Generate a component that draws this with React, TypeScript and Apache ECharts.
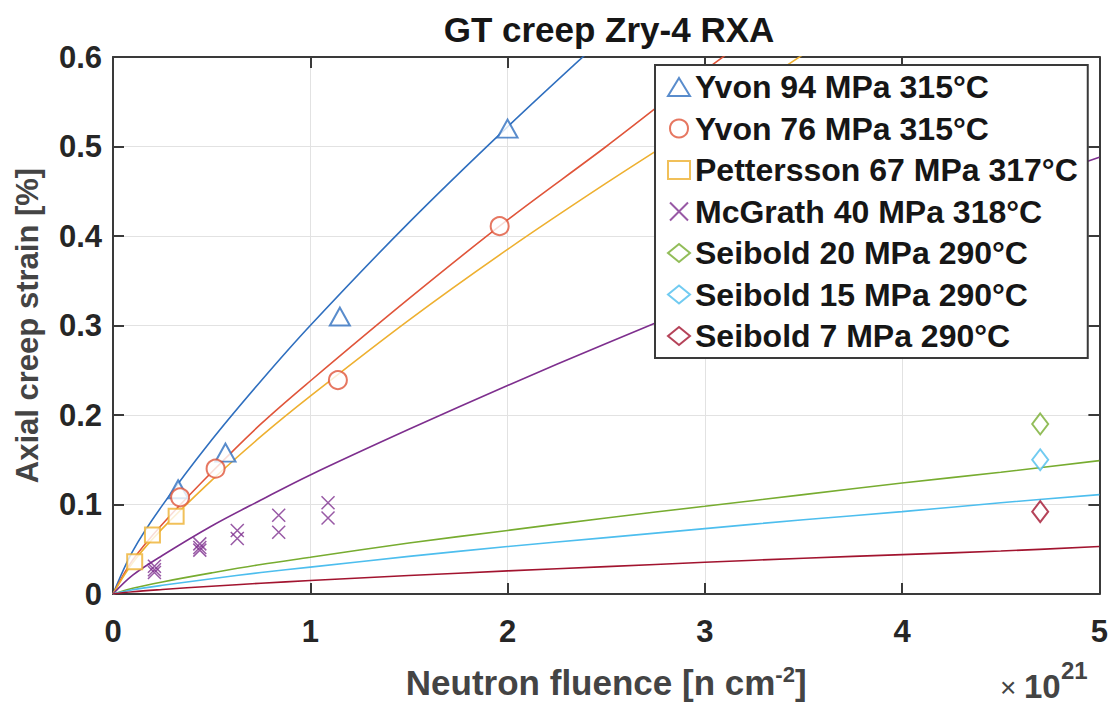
import React, { useEffect, useRef } from "react";
import * as echarts from "echarts";

// ---- data (fluence in 1e21 n/cm^2, axial creep strain in %) ----
const xTicks = [0, 1, 2, 3, 4, 5];
const yTicks = [0, 0.1, 0.2, 0.3, 0.4, 0.5, 0.6];

const yvon94X = [0.33, 0.57, 1.15, 2.0];
const yvon94Y = [0.117, 0.158, 0.31, 0.52];
const yvon76X = [0.34, 0.52, 1.14, 1.96];
const yvon76Y = [0.108, 0.14, 0.239, 0.411];
const petX = [0.11, 0.2, 0.32];
const petY = [0.036, 0.066, 0.087];
const mcgX = [0.21, 0.21, 0.21, 0.44, 0.44, 0.44, 0.63, 0.63, 0.84, 0.84, 1.09, 1.09];
const mcgY = [0.031, 0.027, 0.024, 0.056, 0.052, 0.049, 0.071, 0.062, 0.088, 0.069, 0.102, 0.085];
const s20X = [4.7];
const s20Y = [0.19];
const s15X = [4.7];
const s15Y = [0.15];
const s7X = [4.7];
const s7Y = [0.092];

// fitted curves
const fitX = [0, 0.1, 0.25, 0.5, 0.75, 1, 1.5, 2, 2.5, 3, 3.5, 4, 4.5, 5];
const fitYvon94 = [0, 0.048, 0.099, 0.172, 0.238, 0.3, 0.415, 0.522, 0.624];
const fitYvon76 = [0, 0.038, 0.078, 0.136, 0.19, 0.238, 0.33, 0.418, 0.5, 0.585, 0.665];
const fitPet = [0, 0.035, 0.073, 0.127, 0.176, 0.221, 0.306, 0.385, 0.459, 0.53, 0.603];
const fitMcg = [0, 0.021, 0.043, 0.076, 0.105, 0.133, 0.184, 0.233, 0.28, 0.325, 0.368, 0.41, 0.45, 0.488];
const fitS20 = [0, 0.0065, 0.0135, 0.0236, 0.033, 0.041, 0.057, 0.071, 0.085, 0.098, 0.111, 0.124, 0.136, 0.149];
const fitS15 = [0, 0.0047, 0.0097, 0.017, 0.024, 0.03, 0.042, 0.053, 0.063, 0.073, 0.083, 0.092, 0.102, 0.111];
const fitS7 = [0, 0.0025, 0.005, 0.0087, 0.012, 0.015, 0.0206, 0.0258, 0.0306, 0.0354, 0.04, 0.044, 0.048, 0.053];

const names = [
  "Yvon 94 MPa 315°C",
  "Yvon 76 MPa 315°C",
  "Pettersson 67 MPa 317°C",
  "McGrath 40 MPa 318°C",
  "Seibold 20 MPa 290°C",
  "Seibold 15 MPa 290°C",
  "Seibold 7 MPa 290°C",
];
const colors = ["#2f6fbf", "#e0553a", "#eeb030", "#7e2f8e", "#77ac30", "#4dbeee", "#a2142f"];

const pairs = (xs: number[], ys: number[]) => ys.map((y, i) => [xs[i], y]);

export default function App() {
  const ref = useRef<HTMLDivElement>(null);
  useEffect(() => {
    if (!ref.current) return;
    const chart = echarts.init(ref.current, null, { renderer: "svg" });
    const font = "Liberation Sans, Arial, Helvetica, sans-serif";
    const axisColor = "#3a3a3a";
    const textColor = "#262626";
    const labelColor = "#444444";

    const pts = [
      { x: yvon94X, y: yvon94Y, symbol: "emptyTriangle", size: [20, 18] },
      { x: yvon76X, y: yvon76Y, symbol: "emptyCircle", size: 18 },
      { x: petX, y: petY, symbol: "emptyRect", size: 15 },
      { x: mcgX, y: mcgY, symbol: "path://M0,0L10,10M10,0L0,10", size: 13 },
      { x: s20X, y: s20Y, symbol: "emptyDiamond", size: [16, 21] },
      { x: s15X, y: s15Y, symbol: "emptyDiamond", size: [16, 21] },
      { x: s7X, y: s7Y, symbol: "emptyDiamond", size: [16, 21] },
    ];
    const fits = [fitYvon94, fitYvon76, fitPet, fitMcg, fitS20, fitS15, fitS7];

    const series: any[] = [];
    fits.forEach((f, i) => {
      series.push({
        name: "fit" + i,
        type: "line",
        data: pairs(fitX, f),
        showSymbol: false,
        symbol: "none",
        smooth: 0.35,
        silent: true,
        z: 2,
        lineStyle: { color: colors[i], width: 1.6 },
      });
    });
    pts.forEach((p, i) => {
      series.push({
        name: names[i],
        type: "scatter",
        data: pairs(p.x, p.y),
        symbol: p.symbol,
        symbolSize: p.size,
        z: 3,
        itemStyle: { color: colors[i], borderColor: colors[i], borderWidth: 1.5 },
      });
    });

    const boxAxis = (extra: any) => ({
      type: "value",
      axisLine: { show: true, onZero: false, lineStyle: { color: axisColor, width: 2 } },
      axisTick: { show: true, inside: true, length: 11, lineStyle: { color: axisColor, width: 2 } },
      axisLabel: { show: false },
      splitLine: { show: false },
      ...extra,
    });

    chart.setOption({
      animation: false,
      backgroundColor: "#ffffff",
      title: {
        text: "GT creep Zry-4 RXA",
        left: 604,
        top: 5,
        textAlign: "center",
        textStyle: { fontFamily: font, fontSize: 35, fontWeight: "bold", color: "#161616", lineHeight: 38 },
      },
      grid: { left: 113, right: 11, top: 57, bottom: 109, containLabel: false },
      legend: {
        data: names.map((n, i) => ({ name: n, icon: pts[i].symbol })),
        orient: "vertical",
        left: 655,
        top: 65,
        padding: [6, 10, 6, 12],
        itemWidth: 22,
        itemHeight: 18,
        itemGap: 9.5,
        backgroundColor: "#ffffff",
        borderColor: axisColor,
        borderWidth: 2,
        borderRadius: 0,
        selectedMode: false,
        textStyle: { fontFamily: font, fontSize: 32, fontWeight: "bold", color: "#161616", lineHeight: 32 },
      },
      xAxis: [
        boxAxis({
          min: 0,
          max: 5,
          interval: 1,
          position: "bottom",
          name: "Neutron fluence [n cm{sup|-2}]",
          nameLocation: "middle",
          nameGap: 69,
          nameTextStyle: {
            fontFamily: font,
            fontSize: 35,
            fontWeight: "bold",
            color: labelColor,
            lineHeight: 38,
            rich: {
              sup: { fontFamily: font, fontSize: 22, fontWeight: "bold", color: labelColor, verticalAlign: "top", lineHeight: 38 },
            },
          },
          axisLabel: {
            show: true,
            margin: 22,
            fontFamily: font,
            fontSize: 31,
            fontWeight: "bold",
            color: textColor,
            formatter: (v: number) => (xTicks.includes(v) ? String(v) : ""),
          },
          splitLine: { show: true, lineStyle: { color: "#e2e2e2", width: 1 } },
        }),
        boxAxis({ min: 0, max: 5, interval: 1, position: "top" }),
      ],
      yAxis: [
        boxAxis({
          min: 0,
          max: 0.6,
          interval: 0.1,
          position: "left",
          name: "Axial creep strain [%]",
          nameLocation: "middle",
          nameGap: 70,
          nameTextStyle: { fontFamily: font, fontSize: 31, fontWeight: "bold", color: labelColor },
          axisLabel: {
            show: true,
            margin: 11,
            fontFamily: font,
            fontSize: 31,
            fontWeight: "bold",
            color: textColor,
            formatter: (v: number) => {
              const t = yTicks.find((k) => Math.abs(k - v) < 1e-9);
              return t === undefined ? "" : t === 0 ? "0" : t.toFixed(1);
            },
          },
          splitLine: { show: true, lineStyle: { color: "#e2e2e2", width: 1 } },
        }),
        boxAxis({ min: 0, max: 0.6, interval: 0.1, position: "right" }),
      ],
      graphic: [
        {
          type: "text",
          x: 1000,
          y: 687,
          style: {
            text: "×",
            fontFamily: font,
            fontSize: 28,
            fill: labelColor,
            align: "left",
            verticalAlign: "middle",
          },
        },
        {
          type: "text",
          x: 1024,
          y: 686,
          style: {
            text: "10",
            fontFamily: font,
            fontSize: 33,
            fontWeight: "bold",
            fill: labelColor,
            align: "left",
            verticalAlign: "middle",
          },
        },
        {
          type: "text",
          x: 1061,
          y: 670,
          style: {
            text: "21",
            fontFamily: font,
            fontSize: 24,
            fontWeight: "bold",
            fill: labelColor,
            align: "left",
            verticalAlign: "middle",
          },
        },
      ],
      series,
    });
    return () => chart.dispose();
  }, []);
  return <div ref={ref} style={{ width: 1111, height: 706, position: "absolute", left: 0, top: 0 }} />;
}
